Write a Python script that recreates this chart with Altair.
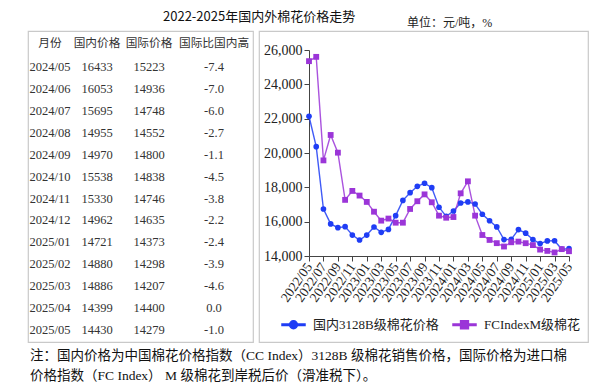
import altair as alt
import pandas as pd

# ---------------- data ----------------
months = [
    "2022/05", "2022/06", "2022/07", "2022/08", "2022/09", "2022/10", "2022/11", "2022/12",
    "2023/01", "2023/02", "2023/03", "2023/04", "2023/05", "2023/06", "2023/07", "2023/08",
    "2023/09", "2023/10", "2023/11", "2023/12", "2024/01", "2024/02", "2024/03", "2024/04",
    "2024/05", "2024/06", "2024/07", "2024/08", "2024/09", "2024/10", "2024/11", "2024/12",
    "2025/01", "2025/02", "2025/03", "2025/04", "2025/05",
]
domestic = [
    22140, 20370, 16740, 15870, 15650, 15710, 15220, 14930,
    15220, 15690, 15380, 15550, 16350, 17240, 17690, 18060,
    18240, 17980, 16840, 16310, 16620, 17090, 17150, 17030,
    16433, 16053, 15695, 14955, 14970, 15538, 15330, 14962,
    14721, 14880, 14886, 14399, 14430,
]
international = [
    25350, 25600, 19570, 21050, 20020, 17270, 17790, 17520,
    17150, 16580, 16060, 16180, 15940, 15940, 16740, 17190,
    17590, 17130, 16350, 16230, 16270, 17650, 18350, 16350,
    15223, 14936, 14748, 14552, 14800, 14838, 14746, 14635,
    14373, 14298, 14207, 14400, 14279,
]
series_names = ["国内3128B级棉花价格", "FCIndexM级棉花"]
y_ticks = [14000, 16000, 18000, 20000, 22000, 24000, 26000]

table_header = ["月份", "国内价格", "国际价格", "国际比国内高"]
table_months = ["2024/05", "2024/06", "2024/07", "2024/08", "2024/09", "2024/10", "2024/11",
                "2024/12", "2025/01", "2025/02", "2025/03", "2025/04", "2025/05"]
table_domestic = [16433, 16053, 15695, 14955, 14970, 15538, 15330, 14962, 14721, 14880, 14886, 14399, 14430]
table_international = [15223, 14936, 14748, 14552, 14800, 14838, 14746, 14635, 14373, 14298, 14207, 14400, 14279]
table_diff = ["-7.4", "-7.0", "-6.0", "-2.7", "-1.1", "-4.5", "-3.8", "-2.2", "-2.4", "-3.9", "-4.6", "0.0", "-1.0"]

title_text = "2022-2025年国内外棉花价格走势"
unit_text = "单位：元/吨，%"
note_lines = [
    "注：国内价格为中国棉花价格指数（CC Index）3128B 级棉花销售价格，国际价格为进口棉",
    "价格指数（FC Index） M 级棉花到岸税后价（滑准税下）。",
]

# ---------------- styles ----------------
BLUE = "#1f3df5"
PURPLE = "#9b35d8"
SERIF = "Liberation Serif, Noto Sans CJK SC"
SANS = "Noto Sans CJK SC"
BOX = "#c9c9c9"

# ---------------- table panel ----------------
trows = []
for c, h in enumerate(table_header):
    trows.append({"r": 0, "c": c, "t": h, "kind": "head"})
for i in range(len(table_months)):
    vals = [table_months[i], str(table_domestic[i]), str(table_international[i]), table_diff[i]]
    for c, v in enumerate(vals):
        trows.append({"r": i + 1, "c": c, "t": v, "kind": "body"})
tdf = pd.DataFrame(trows)

tx = alt.X("c:Q", scale=alt.Scale(domain=[0, 1, 2, 3], range=[22, 69, 121, 186], nice=False, zero=False), axis=None)
ty = alt.Y("r:Q", scale=alt.Scale(domain=[0, 1, 13], range=[12, 36, 299], nice=False, zero=False), axis=None)

t_head = alt.Chart(tdf).transform_filter(alt.datum.kind == "head").mark_text(
    font=SANS, fontSize=11.7, color="#333333"
).encode(x=tx, y=ty, text="t:N")
t_body = alt.Chart(tdf).transform_filter(alt.datum.kind == "body").mark_text(
    font=SERIF, fontSize=12.5, color="#333333"
).encode(x=tx, y=ty, text="t:N")

table = alt.layer(t_head, t_body).properties(
    width=225, height=311,
    title=alt.TitleParams(title_text, anchor="start", dx=135, font=SANS, fontSize=13,
                          fontWeight="normal", color="#111111", baseline="alphabetic", offset=-3),
)

# ---------------- line chart panel ----------------
df = pd.DataFrame({
    "month": months * 2,
    "value": domestic + international,
    "series": [series_names[0]] * len(months) + [series_names[1]] * len(months),
})

x = alt.X("month:O",
          scale=alt.Scale(type="point", domain=months, range=[50, 310], padding=0),
          axis=alt.Axis(values=months[::2], labelAngle=-55, labelAlign="right", labelBaseline="middle",
                        offset=-86, title=None, labelFont=SERIF, labelFontSize=13.5, labelColor="#222222",
                        tickSize=5, labelPadding=3, domainColor="#444444", tickColor="#444444", grid=False))
y = alt.Y("value:Q",
          scale=alt.Scale(domain=[14000, 26000], range=[225, 19], nice=False, zero=False),
          axis=alt.Axis(values=y_ticks, format=",d", offset=-50, title=None, labelFont=SERIF,
                        labelFontSize=14, labelColor="#222222", tickSize=5, labelPadding=2,
                        domainColor="#444444", tickColor="#444444", grid=False))
color_scale = alt.Scale(domain=series_names, range=[BLUE, PURPLE])

lines = alt.Chart(df).mark_line(strokeWidth=1.4, opacity=0.85).encode(
    x=x, y=y, color=alt.Color("series:N", scale=color_scale, legend=None)
)
pts_dom = alt.Chart(df).transform_filter(alt.datum.series == series_names[0]).mark_point(
    filled=True, shape="circle", size=32, opacity=1
).encode(x=x, y=y, color=alt.Color("series:N", scale=color_scale, legend=None))
pts_int = alt.Chart(df).transform_filter(alt.datum.series == series_names[1]).mark_point(
    filled=True, shape="square", size=34, opacity=1
).encode(x=x, y=y, color=alt.Color("series:N", scale=color_scale, legend=None))

circle_sym = "M-1,-0.065H1V0.065H-1Z M0.34,0A0.34,0.34,0,1,1,-0.34,0A0.34,0.34,0,1,1,0.34,0Z"
square_sym = "M-1,-0.065H1V0.065H-1Z M-0.34,-0.34H0.34V0.34H-0.34Z"
leg = alt.Legend(orient="none", legendX=22, legendY=281, direction="horizontal", title=None,
                 symbolSize=529, symbolOpacity=1, labelFont=SERIF, labelFontSize=13,
                 labelColor="#222222", labelOffset=7, columnPadding=11)
legend_layer = alt.Chart(df).mark_point(filled=True, opacity=0).encode(
    x=x, y=y,
    color=alt.Color("series:N", scale=color_scale, legend=leg),
    shape=alt.Shape("series:N", scale=alt.Scale(domain=series_names, range=[circle_sym, square_sym]), legend=leg),
)

right = alt.layer(legend_layer, lines, pts_dom, pts_int).properties(
    width=329, height=311,
    title=alt.TitleParams(unit_text, anchor="start", dx=148, font=SERIF, fontSize=12,
                          fontWeight="normal", color="#222222", baseline="alphabetic", offset=-8),
)

# ---------------- note ----------------
ndf = pd.DataFrame({"i": list(range(len(note_lines))), "t": note_lines})
note = alt.Chart(ndf).mark_text(align="left", font=SERIF, fontSize=13.5, color="#111111").encode(
    x=alt.value(2),
    y=alt.Y("i:O", axis=None, scale=alt.Scale(type="point", padding=0.5)),
    text="t:N",
).properties(width=560, height=40, view=alt.ViewBackground(stroke="transparent"))

top = alt.hconcat(table, right, spacing=6, bounds="flush").resolve_scale(
    color="independent", shape="independent"
).resolve_legend(color="independent", shape="independent")

chart = alt.vconcat(top, note, spacing=2).resolve_scale(
    color="independent", shape="independent"
).resolve_legend(color="independent", shape="independent").properties(
    padding={"left": 19, "top": 2, "right": 5, "bottom": 0}
).configure_view(stroke=BOX, strokeWidth=1.2)

chart.save("out.html", embed_options={"renderer": "svg", "actions": False})
